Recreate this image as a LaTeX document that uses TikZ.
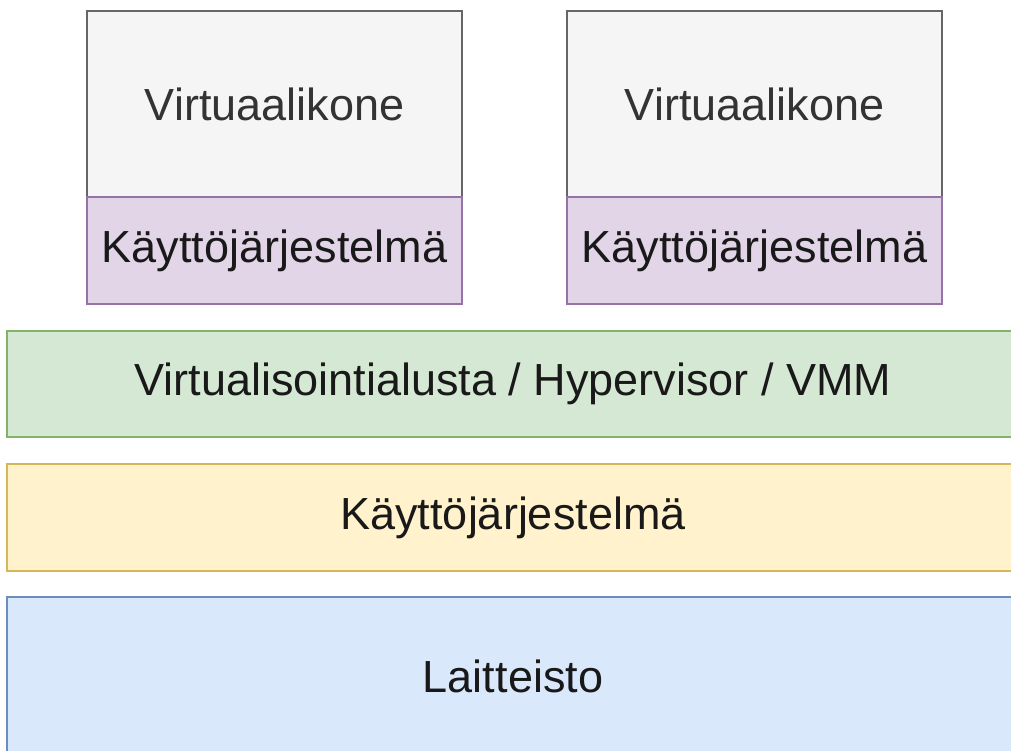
\documentclass[tikz,border=0pt]{standalone}
\usepackage{fontspec}
\setmainfont{Liberation Sans}
\definecolor{vmfill}{HTML}{F5F5F5}
\definecolor{vmdraw}{HTML}{666666}
\definecolor{vmtext}{HTML}{333333}
\definecolor{osfill}{HTML}{E1D5E7}
\definecolor{osdraw}{HTML}{9673A6}
\definecolor{hypfill}{HTML}{D5E8D4}
\definecolor{hypdraw}{HTML}{82B366}
\definecolor{hostfill}{HTML}{FFF2CC}
\definecolor{hostdraw}{HTML}{D6B656}
\definecolor{hwfill}{HTML}{DAE8FC}
\definecolor{hwdraw}{HTML}{6C8EBF}
\begin{document}
\begin{tikzpicture}[x=1pt,y=-1pt,
  box/.style={draw, line width=1.2pt, inner sep=0pt, text=black!90,
    font=\fontsize{45}{54}\selectfont},
  vmbox/.style={box, fill=vmfill, draw=vmdraw, text=vmtext, minimum width=375pt, minimum height=186pt},
  osbox/.style={box, fill=osfill, draw=osdraw, minimum width=375pt, minimum height=107pt},
  bar/.style={box, minimum width=1012pt}]
\useasboundingbox (0,0) rectangle (1011,751);
\fill[white] (0,0) rectangle (1011,751);
\clip (0,0) rectangle (1011,751);
\node[vmbox] (vm1) at (274.5,104) {Virtuaalikone};
\node[vmbox] (vm2) at (754.5,104) {Virtuaalikone};
\node[osbox] (os1) at (274.5,250.5) {Käyttöjärjestelmä};
\node[osbox] (os2) at (754.5,250.5) {Käyttöjärjestelmä};
\node[bar, fill=hypfill, draw=hypdraw, minimum height=106pt] (hyp) at (513,384) {Virtualisointialusta / Hypervisor / VMM};
\node[bar, fill=hostfill, draw=hostdraw, minimum height=107pt] (host) at (513,517.5) {Käyttöjärjestelmä};
\node[bar, fill=hwfill, draw=hwdraw, minimum height=158pt] (hw) at (513,676) {Laitteisto};
\end{tikzpicture}
\end{document}
